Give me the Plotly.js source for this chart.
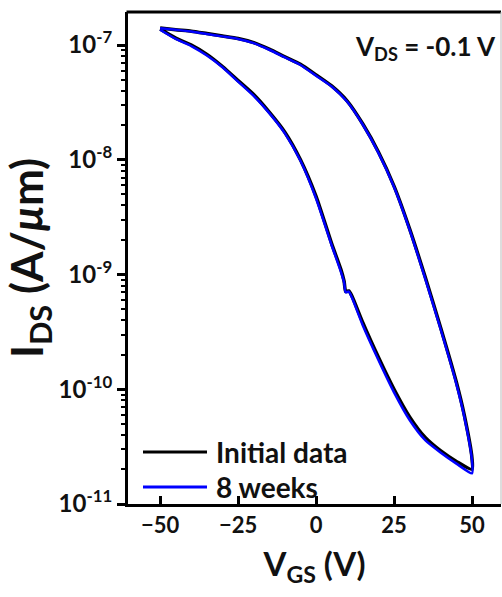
<!DOCTYPE html>
<html>
<head>
<meta charset="utf-8">
<script src="https://cdn.plot.ly/plotly-3.0.1.min.js"></script>
<style>html,body{margin:0;padding:0;background:#fff;}#chart{width:502px;height:597px;}</style>
</head>
<body>
<div id="chart"></div>
<script>
// Gate voltage sweep: forward -50 -> 50 V, then reverse 50 -> -50 V
const vgsSweep = [-50,-45,-40,-35,-30,-25,-20,-15,-10,-5,0,5,8,9,9.5,10.5,11.5,15,20,25,30,35,40,45,50,
                  50,47.5,45,40,35,30,25,20,15,10,5,0,-5,-10,-15,-20,-25,-30,-35,-40,-45,-50];
// Drain current (A/um), initial data
const idsInitial = [1.38e-7,1.15e-7,1.0e-7,8.3e-8,6.5e-8,4.9e-8,3.7e-8,2.6e-8,1.74e-8,1.0e-8,4.8e-9,1.86e-9,1.1e-9,8.7e-10,7.1e-10,7.2e-10,6.5e-10,3.8e-10,1.9e-10,1.0e-10,5.75e-11,3.8e-11,2.9e-11,2.35e-11,2.0e-11,
                    2.5e-11,6.0e-11,1.15e-10,3.4e-10,9.5e-10,2.5e-9,5.9e-9,1.17e-8,2.05e-8,3.25e-8,4.4e-8,5.5e-8,6.8e-8,7.9e-8,9.2e-8,1.05e-7,1.14e-7,1.2e-7,1.26e-7,1.32e-7,1.36e-7,1.41e-7];
// Drain current (A/um), after 8 weeks
const ids8weeks = [1.36e-7,1.13e-7,9.8e-8,8.1e-8,6.4e-8,4.8e-8,3.6e-8,2.55e-8,1.7e-8,9.8e-9,4.6e-9,1.8e-9,1.05e-9,8.5e-10,7.0e-10,7.1e-10,6.3e-10,3.6e-10,1.8e-10,9.4e-11,5.4e-11,3.6e-11,2.8e-11,2.25e-11,1.85e-11,
                   2.4e-11,5.8e-11,1.11e-10,3.3e-10,9.2e-10,2.45e-9,5.8e-9,1.15e-8,2.02e-8,3.2e-8,4.35e-8,5.4e-8,6.7e-8,7.8e-8,9.1e-8,1.04e-7,1.13e-7,1.19e-7,1.25e-7,1.31e-7,1.36e-7,1.40e-7];
const seriesNames = ["Initial data", "8 weeks"];
const xTickVals = [-50,-25,0,25,50];
const yTickVals = [1e-11,1e-10,1e-9,1e-8,1e-7];
const yTickText = ["10<sup>-11</sup>","10<sup>-10</sup>","10<sup>-9</sup>","10<sup>-8</sup>","10<sup>-7</sup>"];

const minorVals = [];
for (let e = -11; e <= -7; e++) for (let m = 2; m <= 9; m++) minorVals.push(m * Math.pow(10, e));

const FONT = "Lato, 'Open Sans', sans-serif";
const traces = [
  {x: vgsSweep, y: idsInitial, name: seriesNames[0], mode: "lines", line: {color: "#000000", width: 3.5, shape: "spline", smoothing: 0.6}, showlegend: false},
  {x: vgsSweep, y: ids8weeks, name: seriesNames[1], mode: "lines", line: {color: "#0000ff", width: 2.5, shape: "spline", smoothing: 0.6}, showlegend: false}
];

const L = 128, R = 501, T = 12, B = 504;
const px = v => (v - L) / (R - L);
const py = v => (B - v) / (B - T);

const layout = {
  width: 502, height: 597,
  margin: {l: L, r: 502 - R, t: T, b: 597 - B, pad: 0},
  paper_bgcolor: "#ffffff", plot_bgcolor: "#ffffff",
  font: {family: FONT, color: "#111", weight: 700},
  showlegend: false,
  xaxis: {
    range: [-60.3, 59.3], tickvals: xTickVals, ticks: "inside", ticklen: 8, tickwidth: 3, tickcolor: "#000",
    showline: true, linewidth: 3, linecolor: "#000", showgrid: false, zeroline: false,
    tickfont: {size: 22, family: FONT, weight: 700, color: "#111"},
    title: {text: "V<sub>GS</sub> (V)", font: {size: 33, family: FONT, weight: 700, color: "#111"}, standoff: 16}
  },
  yaxis: {
    type: "log", range: [-11, -6.712], tickvals: yTickVals, ticktext: yTickText,
    ticks: "outside", ticklen: 8, tickwidth: 3, tickcolor: "#000",
    minor: {tickvals: minorVals, ticks: "outside", ticklen: 4, tickwidth: 2, tickcolor: "#000", showgrid: false},
    showline: true, linewidth: 3, linecolor: "#000", showgrid: false, zeroline: false,
    tickfont: {size: 24, family: FONT, weight: 700, color: "#111"},
    title: {text: "I<sub>DS</sub> (A/<i>μ</i>m)", font: {size: 44, family: FONT, weight: 700, color: "#111"}, standoff: 4}
  },
  shapes: [
    {type: "line", xref: "paper", yref: "paper", x0: -0.004, x1: 1, y0: 1, y1: 1, line: {color: "#000", width: 3}},
    {type: "line", xref: "paper", yref: "paper", x0: 1, x1: 1, y0: 0, y1: 1, line: {color: "#bbb", width: 1}},
    {type: "line", xref: "paper", yref: "paper", x0: px(143), x1: px(207), y0: py(452), y1: py(452), line: {color: "#000000", width: 3}},
    {type: "line", xref: "paper", yref: "paper", x0: px(143), x1: px(207), y0: py(487), y1: py(487), line: {color: "#0000ff", width: 3}}
  ],
  annotations: [
    {xref: "paper", yref: "paper", x: px(498), y: py(48), xanchor: "right", yanchor: "middle", showarrow: false,
     text: "V<sub>DS</sub> = -0.1 V", font: {size: 26, family: FONT, weight: 700, color: "#111"}},
    {xref: "paper", yref: "paper", x: px(214), y: py(452), xanchor: "left", yanchor: "middle", showarrow: false,
     text: seriesNames[0], font: {size: 28, family: FONT, weight: 700, color: "#111"}},
    {xref: "paper", yref: "paper", x: px(214), y: py(487), xanchor: "left", yanchor: "middle", showarrow: false,
     text: seriesNames[1], font: {size: 28, family: FONT, weight: 700, color: "#111"}}
  ]
};

Plotly.newPlot("chart", traces, layout, {staticPlot: true, displayModeBar: false});
</script>
</body>
</html>
